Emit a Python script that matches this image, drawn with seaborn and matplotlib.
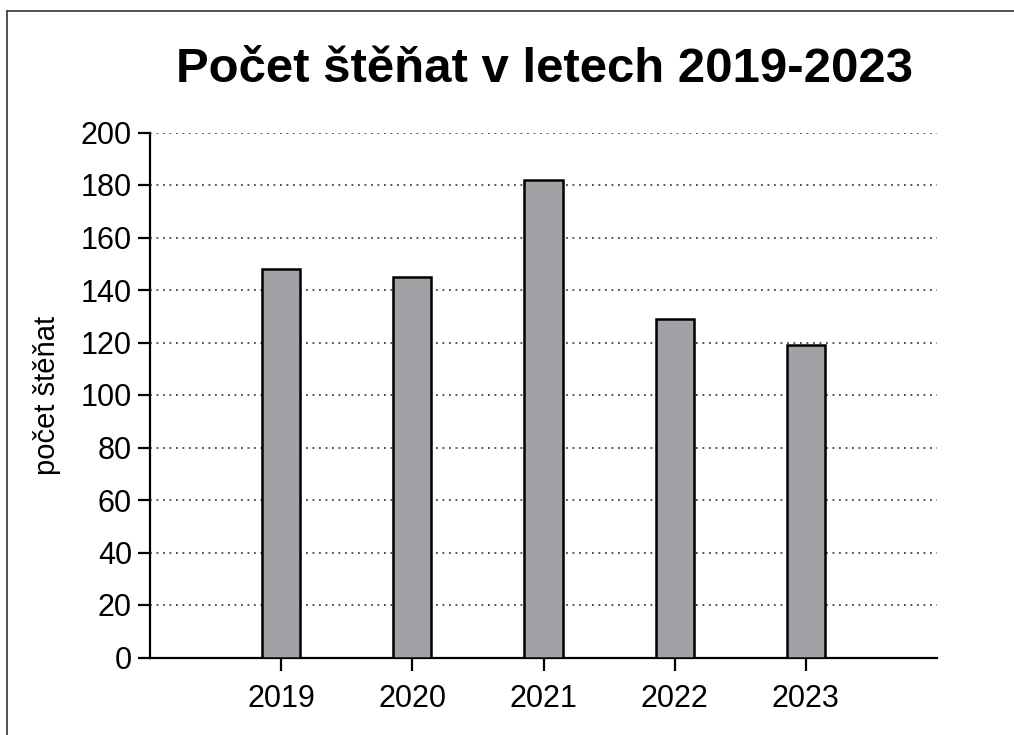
import matplotlib
matplotlib.use("Agg")
import matplotlib.pyplot as plt
import seaborn as sns
import pandas as pd
from matplotlib.lines import Line2D

years = ["2019", "2020", "2021", "2022", "2023"]
counts = [148, 145, 182, 129, 119]
y_ticks = [0, 20, 40, 60, 80, 100, 120, 140, 160, 180, 200]
title = "Počet štěňat v letech 2019-2023"
ylabel = "počet štěňat"

sns.set_theme(style="white")
plt.rcParams['font.family'] = ['Liberation Sans', 'DejaVu Sans']

W, H = 1014, 735
fig = plt.figure(figsize=(W / 100, H / 100), dpi=100)
ax = fig.add_axes([150 / W, 1 - 657.5 / H, (937 - 150) / W, (657.5 - 132.5) / H])

df = pd.DataFrame({"year": years, "count": counts})
sns.barplot(data=df, x="year", y="count", ax=ax, color="#a2a1a6", saturation=1,
            width=0.29, edgecolor="black", linewidth=1.8, zorder=3)

ax.set_xlim(-1, len(years))
ax.set_ylim(0, 200)
ax.set_yticks(y_ticks)
ax.yaxis.grid(True, linestyle=(0, (1, 2.6)), color="#444444", linewidth=1.3, zorder=0)
ax.xaxis.grid(False)
ax.set_axisbelow(True)

for s in ["top", "right"]:
    ax.spines[s].set_visible(False)
for s in ["left", "bottom"]:
    ax.spines[s].set_visible(True)
    ax.spines[s].set_color("black")
    ax.spines[s].set_linewidth(1.6)

ax.tick_params(axis="both", which="both", direction="out", length=9, width=1.6,
               color="black", labelsize=22, labelcolor="black",
               left=True, bottom=True)
ax.tick_params(axis="y", pad=4)
ax.tick_params(axis="x", pad=10)
ax.set_xlabel("")
ax.set_ylabel(ylabel, fontsize=21, color="black", labelpad=14)

fig.text(545 / W, 1 - 69 / H, title, ha="center", va="center",
         fontsize=35.4, fontweight="bold", color="black")

# figure border (top and left edges visible)
fig.add_artist(Line2D([7 / W, 1.0], [1 - 11 / H, 1 - 11 / H], transform=fig.transFigure,
                      color="#333333", linewidth=1.2))
fig.add_artist(Line2D([7 / W, 7 / W], [0.0, 1 - 11 / H], transform=fig.transFigure,
                      color="#333333", linewidth=1.2))

fig.savefig("out.png", dpi=100, facecolor="white")
